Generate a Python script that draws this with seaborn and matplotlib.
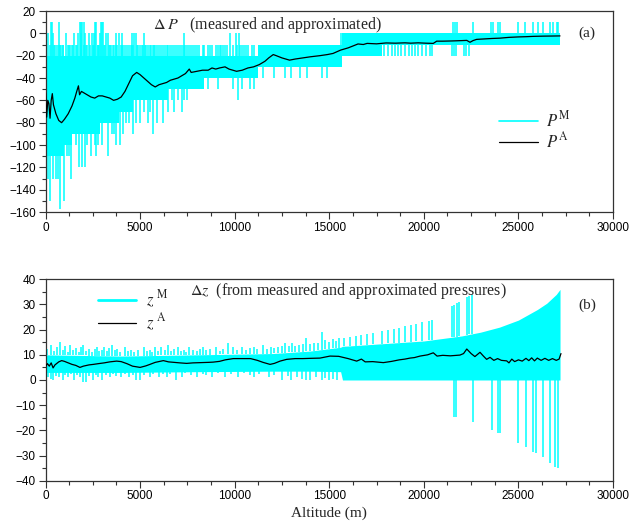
import numpy as np
import matplotlib
matplotlib.use("Agg")
import matplotlib.pyplot as plt
from matplotlib.lines import Line2D
from matplotlib.ticker import MultipleLocator
import seaborn as sns

# ---------------- panel (a): pressure difference ----------------
# core band of the measured (quantised) values, level starts at each altitude
env_a_alt = [0, 1000, 1400, 2900, 3900, 4600, 6500, 8400, 11250, 15650, 17800, 27200]
env_a_lo = [-110, -100, -90, -80, -70, -60, -50, -40, -30, -20, -10, -10]
env_a_hi = [-20, -20, -20, -20, -20, -20, -20, -20, -10, 0, 0, 0]

# isolated measured samples above the core band, grouped by their (quantised) value
spk_a_up = {
    10: [270, 330, 710, 1800, 1850, 1950, 2030, 2600, 2650, 2920, 2980, 3050,
         21540, 21650, 21750, 22600, 23550, 23650, 23920, 24030, 24980, 25350, 25770,
         26030, 26300, 26670, 26830, 27040, 27090],
    0: [150, 400, 1100, 1500, 1700, 1860, 2100, 2300, 2450, 2560, 2900, 3200, 3300,
        3710, 3900, 4040, 4570, 4700, 4770, 5210, 7320, 9750, 10050, 10250, 15600, 15650],
    -10: [50, 250, 450, 500, 600, 700, 750, 800, 900, 950, 1200, 1250, 1300, 1400, 1450,
          1600, 1650, 1900, 2050, 2150, 2200, 2350, 2500, 2550, 2750, 2800, 2850, 3100,
          3150, 3350, 3400, 3450, 3550, 3600, 3700, 3800, 4000, 4050, 4100, 4200, 4300,
          4400, 4500, 4550, 4650, 4850, 4900, 5000, 5100, 5150, 5250, 5300, 5400, 5500,
          5600, 5700, 5750, 5800, 5900, 6000, 6100, 6200, 6300, 6400, 6450, 6600, 6700,
          6800, 6900, 7000, 7100, 7200, 7300, 7400, 7500, 7600, 7700, 7800, 7900, 8000,
          8100, 8300, 8400, 8600, 8700, 8800, 9000, 9100, 9200, 9300, 9400, 9500, 9600,
          9900, 10100, 10300, 10400, 10500, 10600, 10700, 10900, 11000],
}
# isolated measured samples below the core band
spk_a_dn = {
    -157: [770],
    -150: [240, 1000],
    -130: [150, 400, 550, 650, 1350],
    -120: [1750, 1950, 2100],
    -110: [200, 1150, 1250, 2400, 2650, 3320],
    -100: [1600, 2200, 2600, 2800, 3000, 3700, 3940],
    -90: [3500, 3600, 4100, 4600, 5690],
    -80: [4250, 4400, 4800, 5000, 5400, 5900, 6220],
    -70: [5200, 5500, 6500, 6800, 7200],
    -60: [6700, 7000, 7300, 7500, 10160],
    -50: [8600, 9100, 9900, 10400, 10800, 11000],
    -40: [11500, 12100, 12660, 13000, 13450, 13800, 14630, 14900],
    -20: [17900, 18100, 18300, 18450, 18650, 18800, 19000, 19200, 19350, 19550, 19700,
          19900, 20100, 20300, 20450, 21500, 21600, 21700, 22100, 22250, 22400],
}

# approximated curve
pa_alt = [0, 60, 120, 180, 240, 300, 360, 420, 550, 700, 850, 1000, 1200, 1400, 1550, 1650,
          1740, 1800, 1900, 2000, 2200, 2400, 2600, 2800, 3000, 3200, 3400, 3600, 3800, 4000,
          4200, 4400, 4600, 4820, 5000, 5200, 5400, 5600, 5800, 6000, 6200, 6400, 6600, 6800,
          7000, 7200, 7400, 7600, 7700, 8000, 8300, 8600, 8800, 9000, 9200, 9490, 9700, 9900,
          10100, 10400, 10700, 11000, 11300, 11600, 11800, 12040, 12200, 12500, 12900, 13200,
          13600, 14000, 14500, 14900, 15200, 15600, 16000, 16300, 16520, 16800, 17000, 17500,
          18000, 18500, 19000, 19300, 19700, 20100, 20500, 20680, 21000, 21500, 22000, 22270,
          22440, 22600, 22790, 23200, 23600, 24030, 24500, 25000, 25400, 25790, 26300, 26800,
          27200]
pa_val = [-53, -75, -60, -63, -76, -60, -54, -64, -72, -78, -80, -77, -72, -65, -58, -52,
          -47, -55, -52, -53, -55, -57, -58, -56, -56, -57, -58, -60, -59, -57,
          -52, -45, -38, -35, -37, -40, -43, -46, -48, -46, -45, -44, -42, -41,
          -40, -38, -36, -32, -35, -34, -33, -33, -31, -32, -31, -30, -32, -33,
          -34, -33, -31, -30, -28, -25, -22, -19, -20, -22, -24, -23,
          -22, -21, -20, -19, -18, -15, -13, -11, -9.5, -10, -9, -9.4,
          -8.6, -8.8, -8.5, -8.8, -8.5, -8.8, -9, -7, -7, -6.8, -6.5, -6.3,
          -8, -6.5, -5.4, -5, -4.6, -4.3, -3.6, -3.2, -3, -2.7, -2.5, -2.4,
          -2.3]

# ---------------- panel (b): altitude difference ----------------
env_b_alt = [0, 4000, 8000, 12000, 14000, 15600, 15700, 16000, 18000,
             20000, 21000, 22000, 23000, 24000, 25000, 26000, 26500, 27000, 27200]
env_b_lo = [3, 3, 3.3, 3.5, 3.5, 3.3, 0, 0, 0,
            0, 0, 0, 0, 0, 0, 0, 0, 0, 0]
env_b_hi = [10, 9.5, 10, 10.5, 11.5, 13, 13.4, 13.5, 14.5,
            15.5, 16.5, 17.5, 19, 21, 23.8, 28, 30.5, 34, 36]

# (altitude, value) of samples outside the core band
spk_b_up = [(100, 12.5), (300, 14), (450, 11.5), (600, 13), (770, 15.2), (900, 12),
            (1050, 13.5), (1200, 11), (1300, 14), (1450, 12), (1600, 12.8), (1750, 11.2),
            (1900, 13), (2000, 14), (2150, 11.5), (2300, 12.5), (2450, 11), (2600, 12.2),
            (2700, 13), (2850, 11.4), (3000, 12), (3100, 13), (3250, 11.5), (3350, 12.6),
            (3500, 14), (3650, 11.8), (3800, 12.5), (3950, 11.2), (4200, 13), (4350, 11.5),
            (4500, 12), (4700, 11), (4900, 11.8), (5200, 13), (5350, 11.5), (5500, 12),
            (5650, 11.2), (5800, 13), (5950, 11.5), (6100, 13), (6300, 12), (6500, 14),
            (6650, 11.5), (6800, 12.3), (7000, 13), (7150, 11.4), (7300, 12), (7450, 11.2),
            (7600, 13), (7800, 12), (8000, 11.5), (8150, 12.5), (8300, 13), (8500, 11.8),
            (8700, 12.4), (9000, 13), (9200, 11.6), (9400, 12.2), (9660, 14.5), (9900, 13),
            (10100, 12), (10400, 13), (10600, 12), (10800, 12.6), (11000, 13), (11200, 12.4),
            (11500, 14), (11700, 12.5), (11900, 13), (12100, 12.8), (12300, 13), (12500, 13.4),
            (12660, 14.6), (12850, 13.5), (13040, 14.6), (13200, 13.6), (13400, 14),
            (13600, 14.2), (13780, 16.5), (14000, 14.4), (14200, 14.6), (14400, 14.8),
            (14600, 18.9), (14800, 16), (15000, 15.2), (15200, 16.2), (15350, 15.4),
            (15500, 16.5), (15800, 16.8), (16100, 17.2), (16400, 17.4), (16700, 17.9),
            (17000, 18.3), (17300, 18.6), (17800, 19.4), (18100, 19.9), (18400, 20.3),
            (18700, 20.8), (19000, 21.3), (19300, 21.8), (19600, 22.4), (19900, 22.9),
            (20250, 23.6), (20450, 23.8), (21500, 29.4), (21600, 29.8), (21750, 30.4),
            (21850, 30.8), (22300, 33), (22400, 33.3), (22530, 33.7)]
spk_b_dn = [(150, 1), (300, 0.5), (400, 0), (550, 1.5), (700, 1), (900, 0), (1050, 2),
            (1200, 1), (1350, 2.5), (1500, 0), (1650, 1.8), (1800, 1), (2000, -0.7),
            (2150, -0.7), (2300, 1.5), (2500, 0), (2650, 2), (2800, 1.2), (3000, 0),
            (3200, 2), (3400, 1), (3550, 2.2), (3700, 1.5), (4000, 1), (4200, 2.4),
            (4400, 1), (4600, 2), (4800, 0), (5000, 0), (5200, 2), (5500, 1), (5700, 2.5),
            (6000, 1), (6200, 2.2), (6400, 1), (6600, 2.4), (6900, 0), (7200, 1),
            (7400, 2.6), (7700, 2), (8000, 1), (8300, 2.5), (8500, 2), (8800, 1),
            (9100, 2.6), (9500, 1), (9800, 2.4), (10200, 1), (10500, 2.8), (10800, 2),
            (11000, 1), (11300, 2.5), (11800, 1), (12100, 2), (12500, 0), (12800, 1.5),
            (13000, 0), (13300, 1), (13550, 0.5), (13770, 0), (14000, 0), (14300, 1),
            (14600, 0), (14800, 0.8), (15000, 0), (15200, 0.5), (15400, 0),
            (21600, -14.6), (21700, -14.6), (22580, -16.5), (23590, -19.9), (23900, -21.2),
            (24030, -21.2), (24990, -25.1), (25400, -26.5), (25790, -28.5), (25930, -29.2),
            (26310, -30.4), (26670, -33), (26930, -34.4), (27110, -35.1)]

zb_alt = [0, 100, 200, 300, 400, 500, 700, 855, 1000, 1200, 1400, 1600, 1820, 2000, 2300,
          2530, 2800, 3100, 3400, 3760, 4000, 4300, 4600, 5000, 5300, 5520, 5800, 6230, 6500,
          6800, 7100, 7460, 7800, 8200, 8600, 8860, 9200, 9500, 9930, 10400, 10840, 11200,
          11500, 11870, 12100, 12400, 12750, 13200, 13600, 14000, 14510, 15040, 15500, 16000,
          16450, 16700, 16900, 17300, 17860, 18300, 18700, 19000, 19270, 19500, 19800, 20200,
          20500, 20700, 21000, 21400, 21910, 22100, 22270, 22500, 22700, 22970, 23150, 23320,
          23500, 23700, 23900, 24100, 24380, 24500, 24650, 24800, 25000, 25200, 25400, 25550,
          25700, 25850, 26000, 26200, 26400, 26600, 26800, 27000, 27150, 27250]
zb_val = [5.3, 6.5, 5.5, 6.8, 4.8, 6, 7.2, 7.7, 7.4, 6.8, 6.2, 5.8, 5.0, 5.5, 6,
          6.2, 6.5, 6.8, 7.2, 7.5, 7.3, 6.5, 5.5, 5.0, 5.6, 6.2, 7, 7.7, 7.2,
          7.0, 6.8, 6.6, 6.8, 6.9, 7.0, 7.1, 7.4, 8.0, 8.5, 8.5, 8.5, 7.8,
          7.0, 6.2, 6.6, 7.5, 8.2, 8.5, 8.5, 8.6, 8.7, 9.5, 9.4, 8.5,
          7.5, 8.3, 7.2, 7.3, 6.9, 7.4, 8.0, 8.3, 8.7, 8.9, 9.5, 10,
          10.8, 9.5, 9.8, 9.6, 9.9, 10.5, 12.3, 10.5, 9.3, 11, 9.5, 8.2,
          9, 7.8, 8.5, 7.8, 7.6, 6.8, 8.3, 7.3, 8.0, 7.5, 8.6, 7.7,
          8.8, 7.6, 8.7, 7.8, 8.6, 7.8, 8.5, 7.8, 8.3, 10.5]

CYAN = "#00ffff"

sns.set_theme(style="ticks")
plt.rcParams["font.family"] = ["Liberation Sans", "DejaVu Sans"]
plt.rcParams["mathtext.fontset"] = "stix"
plt.rcParams["axes.edgecolor"] = "#333333"
plt.rcParams["axes.linewidth"] = 0.9
plt.rcParams["xtick.color"] = "#333333"
plt.rcParams["ytick.color"] = "#333333"
plt.rcParams["xtick.labelcolor"] = "black"
plt.rcParams["ytick.labelcolor"] = "black"

fig = plt.figure(figsize=(6.33, 5.27), dpi=100)
ax_a = fig.add_axes([0.0719, 0.5977, 0.8965, 0.3814])
ax_b = fig.add_axes([0.0719, 0.0879, 0.8965, 0.3821])

# panel (a): stepped core band + quantised spikes
ax_a.fill_between(env_a_alt, env_a_lo, env_a_hi, step="post", color=CYAN, lw=0, zorder=1)
for val, alts in spk_a_up.items():
    idx = np.searchsorted(env_a_alt, alts, side="right") - 1
    ax_a.vlines(alts, np.asarray(env_a_hi)[idx], val, color=CYAN, lw=1.1, zorder=1)
for val, alts in spk_a_dn.items():
    idx = np.searchsorted(env_a_alt, alts, side="right") - 1
    ax_a.vlines(alts, val, np.asarray(env_a_lo)[idx], color=CYAN, lw=1.1, zorder=1)
sns.lineplot(x=pa_alt, y=pa_val, ax=ax_a, color="black", lw=0.9, zorder=3)

# panel (b)
ax_b.fill_between(env_b_alt, env_b_lo, env_b_hi, color=CYAN, lw=0, zorder=1)
up_x, up_y = np.array(spk_b_up).T
dn_x, dn_y = np.array(spk_b_dn).T
ax_b.vlines(up_x, np.interp(up_x, env_b_alt, env_b_hi), up_y, color=CYAN, lw=1.1, zorder=1)
ax_b.vlines(dn_x, dn_y, np.interp(dn_x, env_b_alt, env_b_lo), color=CYAN, lw=1.1, zorder=1)
sns.lineplot(x=zb_alt, y=zb_val, ax=ax_b, color="black", lw=0.9, zorder=3)

ax_a.set_ylim(-160, 20)
ax_a.yaxis.set_major_locator(MultipleLocator(20))
ax_a.yaxis.set_minor_locator(MultipleLocator(10))
ax_b.set_ylim(-40, 40)
ax_b.yaxis.set_major_locator(MultipleLocator(10))
ax_b.yaxis.set_minor_locator(MultipleLocator(5))

for ax in (ax_a, ax_b):
    ax.set_xlim(0, 30000)
    ax.xaxis.set_major_locator(MultipleLocator(5000))
    ax.xaxis.set_minor_locator(MultipleLocator(1250))
    ax.tick_params(which="major", direction="out", length=5, width=0.8, labelsize=8.5, pad=2)
    ax.tick_params(which="minor", direction="out", length=3, width=0.8)
    ax.tick_params(top=False, right=False)
    for s in ax.spines.values():
        s.set_visible(True)
    ax.set_xlabel("")
    ax.set_ylabel("")

serif = ["Liberation Serif", "DejaVu Serif"]
ax_a.text(0.189, 0.91, r"$\Delta\;P$" + "   (measured and approximated)",
          transform=ax_a.transAxes, fontsize=11.5, family=serif, va="baseline")
ax_b.text(0.2546, 0.922, r"$\Delta z$" + "  (from measured and approximated pressures)",
          transform=ax_b.transAxes, fontsize=11.5, family=serif, va="baseline")
ax_a.text(0.954, 0.89, "(a)", transform=ax_a.transAxes, fontsize=11, family=serif,
          ha="center", va="center")
ax_b.text(0.954, 0.872, "(b)", transform=ax_b.transAxes, fontsize=11, family=serif,
          ha="center", va="center")

h_a = [Line2D([], [], color=CYAN, lw=1.2), Line2D([], [], color="black", lw=0.9)]
ax_a.legend(h_a, [r"$P^{\rm M}$", r"$P^{\rm A}$"], loc="upper left",
            bbox_to_anchor=(0.785, 0.55), frameon=False, fontsize=12,
            handlelength=2.3, handletextpad=0.5, labelspacing=0.05, borderpad=0)
h_b = [Line2D([], [], color=CYAN, lw=2.0), Line2D([], [], color="black", lw=0.9)]
ax_b.legend(h_b, [r"$z^{\ \rm M}$", r"$z^{\ \rm A}$"], loc="upper left",
            bbox_to_anchor=(0.078, 0.995), frameon=False, fontsize=12,
            handlelength=2.3, handletextpad=0.6, labelspacing=0.1, borderpad=0)

fig.text(329 / 633, 1 - 513 / 527, "Altitude (m)", ha="center", va="center",
         fontsize=11, family=serif)

fig.savefig("out.png", dpi=100, facecolor="white")
